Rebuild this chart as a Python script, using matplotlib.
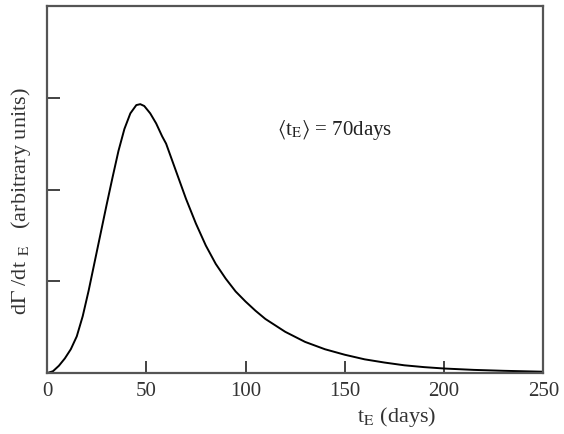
import matplotlib

matplotlib.use("Agg")
import matplotlib.pyplot as plt

# event rate distribution
t_days = [0, 3, 6, 9, 12, 15, 18, 21, 24, 27, 30, 33, 36, 39, 42, 45, 47, 49,
          52, 55, 58, 60, 65, 70, 75, 80, 85, 90, 95, 100, 105, 110, 115, 120,
          130, 140, 150, 160, 170, 180, 190, 200, 215, 230, 250]
rate = [0, 0.02, 0.08, 0.16, 0.26, 0.40, 0.62, 0.90, 1.21, 1.52, 1.83, 2.13,
        2.42, 2.66, 2.83, 2.92, 2.93, 2.91, 2.83, 2.72, 2.58, 2.50, 2.20, 1.90,
        1.63, 1.39, 1.19, 1.03, 0.89, 0.78, 0.68, 0.59, 0.52, 0.45, 0.34, 0.26,
        0.20, 0.15, 0.115, 0.085, 0.065, 0.05, 0.035, 0.025, 0.015]
x_ticks = [0, 50, 100, 150, 200, 250]
y_ticks = [1, 2, 3]

plt.rcParams["font.family"] = ["Liberation Serif", "DejaVu Serif"]
plt.rcParams["mathtext.fontset"] = "stix"

fig = plt.figure(figsize=(5.64, 4.35), dpi=100)
ax = fig.add_axes([0.0833, 0.140, 0.880, 0.844])

ax.plot(t_days, rate, color="black", linewidth=1.4)

ax.set_xlim(0, 250)
ax.set_ylim(0, 4)
ax.set_xticks(x_ticks)
ax.set_yticks(y_ticks)
ax.set_yticklabels([])
ax.tick_params(axis="both", direction="in", length=9, width=1.2, color="#222222",
               labelsize=15, labelcolor="#333333", top=False, right=False)
ax.tick_params(axis="x", pad=6)
for side in ax.spines.values():
    side.set_linewidth(1.6)
    side.set_color("#555555")

ax.set_xlabel(r"t$_{\rm E}$ (days)", fontsize=16, color="#333333", labelpad=4)
ax.xaxis.set_label_coords(0.705, -0.085)
ax.set_ylabel(r"d$\Gamma$ /dt $_{\rm E}$   (arbitrary units)", fontsize=16,
              color="#333333")
ax.yaxis.set_label_coords(-0.028, 0.47)

ax.text(116, 2.66, r"$\langle$t$_{\rm E}\rangle$ = 70days", fontsize=15,
        color="#222222", va="center")

fig.savefig("out.png", dpi=100)
